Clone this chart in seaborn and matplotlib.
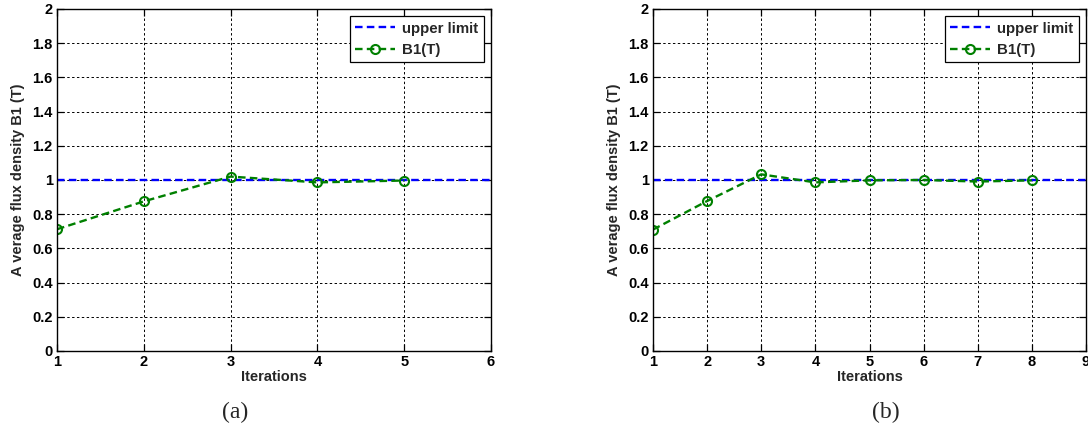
import matplotlib
matplotlib.use("Agg")
import matplotlib.pyplot as plt
import seaborn as sns

# Iteration history of the average flux density B1 for the two runs
iters_a = [1, 2, 3, 4, 5]
b1_a = [0.712, 0.875, 1.020, 0.986, 0.997]

iters_b = [1, 2, 3, 4, 5, 6, 7, 8]
b1_b = [0.710, 0.877, 1.033, 0.986, 0.998, 1.000, 0.991, 0.998]

upper_limit = 1.0
xmax_a = 6
xmax_b = 9

y_ticks = [0, 0.2, 0.4, 0.6, 0.8, 1, 1.2, 1.4, 1.6, 1.8, 2]
y_tick_labels = ["0", "0.2", "0.4", "0.6", "0.8", "1", "1.2", "1.4", "1.6", "1.8", "2"]

sns.set_style("white")
plt.rcParams["font.family"] = ["Liberation Sans", "DejaVu Sans"]
plt.rcParams["font.weight"] = "bold"

BLUE = "#0000ff"
GREEN = "#008000"
FS = 10.5

fig = plt.figure(figsize=(10.88, 4.28), dpi=100)
ax_a = fig.add_axes([57 / 1088, 77 / 428, 434 / 1088, 342 / 428])
ax_b = fig.add_axes([653 / 1088, 77 / 428, 433 / 1088, 342 / 428])


def draw_panel(ax, iters, b1, xmax):
    sns.lineplot(x=[iters[0], xmax], y=[upper_limit, upper_limit], ax=ax,
                 color=BLUE, linestyle=(0, (3.2, 1.8)), linewidth=1.7,
                 label="upper limit")
    sns.lineplot(x=iters, y=b1, ax=ax, color=GREEN,
                 linestyle=(0, (3.2, 1.8)), linewidth=1.7,
                 marker="o", markersize=6.5, markerfacecolor="none",
                 markeredgecolor=GREEN, markeredgewidth=1.5,
                 label="B1(T)")
    ax.set_xlim(iters[0], xmax)
    ax.set_ylim(0, 2)
    ax.set_xticks(list(range(iters[0], xmax + 1)))
    ax.set_xticklabels([str(v) for v in range(iters[0], xmax + 1)],
                       fontsize=FS, fontweight="bold")
    ax.set_yticks(y_ticks)
    ax.set_yticklabels(y_tick_labels, fontsize=FS, fontweight="bold")
    ax.grid(True, color="black", linestyle=(0, (2.5, 2.5)), linewidth=0.7)
    ax.set_axisbelow(True)
    for sp in ax.spines.values():
        sp.set_color("black")
        sp.set_linewidth(1.0)
        sp.set_visible(True)
    ax.tick_params(direction="in", length=5, width=0.9, top=True, right=True,
                   bottom=True, left=True, pad=3, colors="black")
    ax.set_xlabel("Iterations", fontsize=FS, fontweight="bold", labelpad=0.5)
    ax.set_ylabel("A verage flux density B1 (T)", fontsize=FS,
                  fontweight="bold", labelpad=5)
    leg = ax.legend(loc="upper right", fontsize=10.8, frameon=True,
                    fancybox=False, framealpha=1, edgecolor="black",
                    handlelength=2.7, handletextpad=0.45, borderpad=0.35,
                    labelspacing=0.5, borderaxespad=0.5)
    leg.get_frame().set_linewidth(0.9)
    for t in leg.get_texts():
        t.set_fontweight("bold")


draw_panel(ax_a, iters_a, b1_a, xmax_a)
draw_panel(ax_b, iters_b, b1_b, xmax_b)

fig.text(235 / 1088, 1 - 412 / 428, "(a)", ha="center", va="center",
         fontsize=17, family="Liberation Serif", fontweight="normal")
fig.text(886 / 1088, 1 - 412 / 428, "(b)", ha="center", va="center",
         fontsize=17, family="Liberation Serif", fontweight="normal")

fig.savefig("out.png", dpi=100, facecolor="white")
